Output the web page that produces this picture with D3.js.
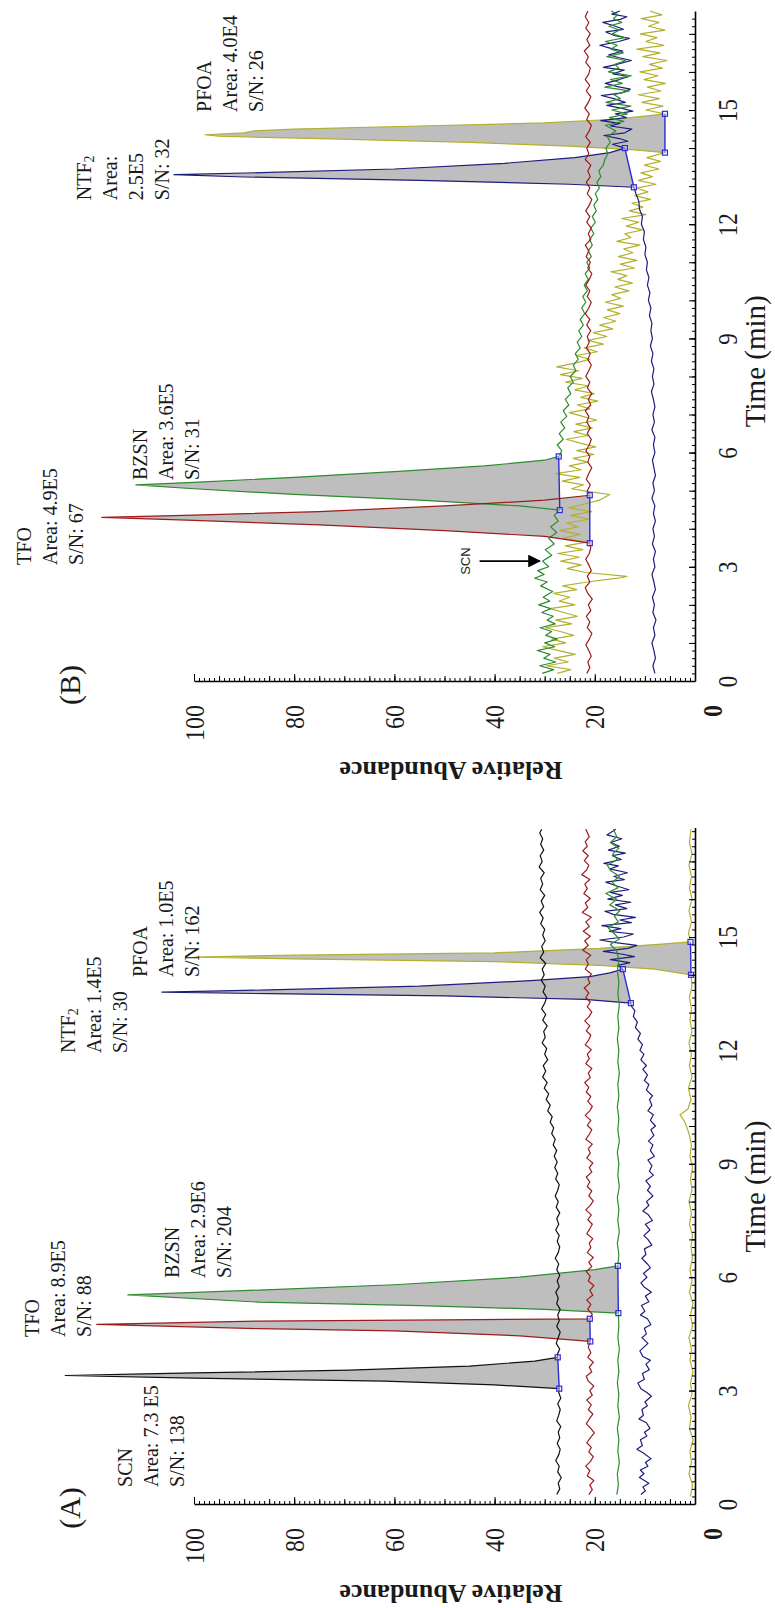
<!DOCTYPE html>
<html>
<head>
<meta charset="utf-8">
<title>Chromatograms A and B</title>
<script src="https://d3js.org/d3.v7.min.js"></script>
<style>
  body { margin: 0; background: #fff; }
  text { font-family: "Liberation Serif", "Times New Roman", serif; fill: #1a1a1a; }
</style>
</head>
<body>
<script>
// axis ticks
const timeTicks = [0, 3, 6, 9, 12, 15];
const abundanceTicks = [0, 20, 40, 60, 80, 100];

// ---- panel A traces: [time (min), relative abundance] ----
const blackA = [[0.25,27.6],[0.4,27.0],[0.55,27.3],[0.7,26.7],[0.85,27.4],[1.0,27.1],[1.15,27.8],[1.3,27.2],[1.45,26.9],[1.6,27.5],[1.75,27.0],[1.9,27.3],[2.05,26.8],[2.2,27.6],[2.35,27.2],[2.5,26.9],[2.65,27.4],[2.8,26.8],[2.95,27.2],
  [3.05,27.1],[3.15,40],[3.25,62],[3.33,100],[3.4,125.7],[3.44,110],[3.47,100],[3.54,69],[3.65,45],[3.78,32],[3.88,27.4],
  [3.95,27.5],[4.1,27.0],[4.25,27.7],[4.4,27.3],[4.55,26.9],[4.7,27.6],[4.85,27.1],[5.0,27.4],[5.15,26.9],[5.3,27.6],[5.45,27.3],[5.6,27.8],[5.75,27.1],[5.9,27.5],[6.05,27.0],[6.2,27.6],[6.35,27.2],[6.5,27.9],[6.65,27.3],[6.8,27.0],[6.95,27.5],[7.1,27.1],[7.25,27.8],[7.4,27.2],[7.55,27.6],[7.7,27.0],[7.85,27.7],[8.0,27.3],[8.15,27.9],[8.3,27.4],[8.45,27.1],[8.6,27.8],[8.75,27.4],[8.9,28.0],[9.05,27.5],[9.2,28.1],[9.35,27.6],[9.5,28.3],[9.65,27.9],[9.8,28.6],[9.95,28.2],[10.1,28.9],[10.25,28.5],[10.4,29.4],[10.55,28.9],[10.7,29.7],[10.85,29.2],[11.0,30.1],[11.15,29.5],[11.3,30.4],[11.45,29.8],[11.6,30.3],[11.75,29.4],[11.9,30.0],[12.05,29.6],[12.2,30.5],[12.35,29.9],[12.5,30.2],[12.65,29.5],[12.8,30.4],[12.95,29.8],[13.1,30.6],[13.25,30.0],[13.4,29.6],[13.55,30.3],[13.7,29.9],[13.85,30.7],[14.0,30.1],[14.15,30.5],[14.3,29.8],[14.45,30.9],[14.6,30.2],[14.75,30.6],[14.9,29.9],[15.05,30.4],[15.2,30.0],[15.35,30.8],[15.5,30.3],[15.65,31.0],[15.8,30.2],[15.95,30.7],[16.1,30.0],[16.25,30.9],[16.4,30.4],[16.55,30.8],[16.7,30.1],[16.85,31.1],[17.0,30.5],[17.15,30.9],[17.3,30.2],[17.45,30.8],[17.6,30.4],[17.75,31.0],[17.85,30.6]];

const redA = [[0.25,21.2],[0.38,20.5],[0.5,21.0],[0.62,20.2],[0.75,21.5],[0.88,21.0],[1.0,21.8],[1.12,20.9],[1.25,20.3],[1.38,21.2],[1.5,20.7],[1.62,21.6],[1.75,20.9],[1.88,20.1],[2.0,20.8],[2.12,21.7],[2.25,21.1],[2.38,20.4],[2.5,21.3],[2.62,20.7],[2.75,21.6],[2.88,20.5],[3.0,21.0],[3.12,20.2],[3.25,21.3],[3.38,21.7],[3.5,20.6],[3.62,21.1],[3.75,20.3],[3.88,21.4],[4.0,20.8],[4.15,21.3],
  [4.3,20.9],[4.45,35],[4.58,60],[4.64,87],[4.75,119.4],[4.84,87],[4.87,50],[4.9,21.0],
  [5.02,20.5],[5.15,21.4],[5.28,20.8],[5.4,21.6],[5.52,20.4],[5.65,21.0],[5.78,20.2],[5.9,21.3],[6.02,20.9],[6.15,21.7],[6.28,20.6],[6.4,21.2],[6.52,20.3],[6.65,21.5],[6.78,20.8],[6.9,21.1],[7.02,20.4],[7.15,21.6],[7.28,21.0],[7.4,20.5],[7.52,21.4],[7.65,20.7],[7.78,21.8],[7.9,20.9],[8.02,20.3],[8.15,21.2],[8.28,20.6],[8.4,21.5],[8.52,21.0],[8.65,21.7],[8.78,20.6],[8.9,21.1],[9.02,20.4],[9.15,21.6],[9.28,20.9],[9.4,21.3],[9.52,20.5],[9.65,21.8],[9.78,21.1],[9.9,20.6],[10.02,21.5],[10.15,20.8],[10.28,21.9],[10.4,21.0],[10.52,20.5],[10.65,21.4],[10.78,20.8],[10.9,21.7],[11.02,21.2],[11.15,22.0],[11.28,20.9],[11.4,21.3],[11.52,20.6],[11.65,21.8],[11.78,21.1],[11.9,21.5],[12.02,20.7],[12.15,21.9],[12.28,21.2],[12.4,20.8],[12.52,21.7],[12.65,21.0],[12.78,22.0],[12.9,21.1],[13.02,20.6],[13.15,21.5],[13.28,20.9],[13.4,21.8],[13.52,21.2],[13.65,22.1],[13.78,21.0],[13.9,21.4],[14.02,20.7],[14.15,21.9],[14.28,21.3],[14.4,21.7],[14.52,20.8],[14.65,22.4],[14.78,21.3],[14.9,22.0],[15.02,20.9],[15.15,22.3],[15.28,21.1],[15.4,21.8],[15.52,20.7],[15.65,22.5],[15.78,21.4],[15.9,21.9],[16.02,20.9],[16.15,22.2],[16.28,21.5],[16.4,22.0],[16.52,21.0],[16.65,22.6],[16.78,21.6],[16.9,21.2],[17.02,22.1],[17.15,21.3],[17.28,22.4],[17.4,21.5],[17.52,21.9],[17.65,21.1],[17.85,21.8]];

const greenA = [[0.25,15.6],[0.5,15.3],[0.8,15.5],[1.1,15.1],[1.4,15.4],[1.7,15.2],[2.0,15.5],[2.3,15.1],[2.6,15.4],[2.9,15.2],[3.2,15.5],[3.5,15.2],[3.8,15.4],[4.1,15.1],[4.4,15.4],[4.7,15.2],
  [5.05,15.3],[5.15,30],[5.25,55],[5.34,87],[5.53,113.2],[5.66,87],[5.8,60],[6.0,35],[6.2,20],[6.3,15.4],
  [6.6,15.2],[6.9,15.5],[7.2,15.1],[7.5,15.4],[7.8,15.2],[8.1,15.5],[8.4,15.1],[8.7,15.4],[9.0,15.2],[9.3,15.5],[9.6,15.1],[9.9,15.4],[10.2,15.2],[10.5,15.5],[10.8,15.2],[11.1,15.4],[11.4,15.1],[11.7,15.4],[12.0,15.2],[12.3,15.5],[12.6,15.2],[12.9,15.4],[13.2,15.1],[13.5,15.4],[13.8,15.2],[14.1,15.5],[14.4,15.2],[14.65,15.7],[14.8,16.9],[14.95,15.1],[15.1,16.2],[15.25,17.4],[15.4,15.3],[15.55,16.1],[15.7,15.0],[15.85,17.0],[16.0,15.6],[16.15,17.8],[16.3,15.4],[16.45,16.5],[16.6,15.1],[16.75,16.8],[16.9,17.5],[17.05,15.5],[17.2,16.4],[17.35,15.2],[17.5,16.9],[17.65,15.6],[17.85,16.3]];

const navyA = [[0.25,10.8],[0.35,9.9],[0.45,10.4],[0.55,9.2],[0.7,11.1],[0.8,10.2],[0.9,10.9],[1.0,9.4],[1.1,9.9],[1.2,8.8],[1.35,10.3],[1.45,11.6],[1.55,10.5],[1.7,10.9],[1.8,9.6],[1.9,10.1],[2.0,9.0],[2.15,9.7],[2.25,11.2],[2.35,10.3],[2.5,10.6],[2.6,9.5],[2.7,10.0],[2.85,8.7],[2.95,9.6],[3.05,10.8],[3.2,11.4],[3.3,10.1],[3.45,10.5],[3.55,9.1],[3.7,9.8],[3.8,8.9],[3.9,10.4],[4.05,11.0],[4.15,10.2],[4.25,9.4],[4.4,10.6],[4.5,9.7],[4.65,10.1],[4.75,8.8],[4.9,9.5],[5.0,10.9],[5.1,10.0],[5.25,10.7],[5.35,9.2],[5.5,9.9],[5.6,8.7],[5.75,10.2],[5.85,10.8],[6.0,9.6],[6.1,10.3],[6.25,8.9],[6.35,9.5],[6.5,10.6],[6.6,9.8],[6.75,10.1],[6.85,8.6],[7.0,9.4],[7.1,10.2],[7.25,9.0],[7.4,9.9],[7.5,8.5],[7.65,9.3],[7.75,10.4],[7.9,9.2],[8.0,9.7],[8.15,8.4],[8.3,9.5],[8.4,8.9],[8.55,9.8],[8.7,8.3],[8.8,9.1],[8.95,8.6],[9.1,9.4],[9.2,8.1],[9.35,8.9],[9.5,8.4],[9.6,9.3],[9.75,8.2],[9.9,8.8],[10.0,7.9],[10.15,8.9],[10.3,8.3],[10.4,9.4],[10.55,8.6],[10.7,9.1],[10.8,8.5],[10.95,9.7],[11.1,9.2],[11.2,10.1],[11.35,9.5],[11.5,10.4],[11.6,9.7],[11.75,10.8],[11.9,10.2],[12.0,11.0],[12.15,10.5],[12.3,11.4],[12.45,10.9],[12.6,11.9],[12.75,11.5],[12.9,12.3],[13.05,12.0],[13.15,12.6],
  [13.25,12.8],[13.35,22],[13.44,50],[13.5,85],[13.54,106.4],[13.6,85],[13.7,55],[13.85,32],[13.95,21],[14.05,17],[14.15,14.4],
  [14.25,15.4],[14.32,13.0],[14.4,16.9],[14.48,12.1],[14.55,14.7],[14.62,18.3],[14.7,13.4],[14.78,11.6],[14.85,15.8],[14.92,19.0],[15.0,14.2],[15.08,12.3],[15.15,17.1],[15.22,14.8],[15.3,18.6],[15.38,12.7],[15.45,15.0],[15.52,11.9],[15.6,16.3],[15.68,18.0],[15.75,13.6],[15.85,15.9],[15.92,12.8],[16.0,17.4],[16.1,14.5],[16.18,16.9],[16.25,13.2],[16.35,15.6],[16.45,17.8],[16.52,14.1],[16.6,16.2],[16.7,13.5],[16.8,17.0],[16.88,15.3],[16.95,18.2],[17.05,14.7],[17.15,16.5],[17.22,13.9],[17.3,17.3],[17.4,15.1],[17.5,16.8],[17.6,14.6],[17.7,17.6],[17.85,15.8]];

const yellowA = [[0.2,0.9],[0.5,0.5],[0.8,1.2],[1.1,0.7],[1.4,1.0],[1.7,0.4],[2.0,1.1],[2.3,0.8],[2.6,1.3],[2.9,0.6],[3.2,0.9],[3.5,0.4],[3.8,1.0],[4.1,0.7],[4.4,1.2],[4.7,0.5],[5.0,0.9],[5.3,0.4],[5.6,1.1],[5.9,0.6],[6.2,1.0],[6.5,0.5],[6.8,0.8],[7.1,0.5],[7.4,1.1],[7.7,0.7],[8.0,1.2],[8.3,0.6],[8.6,0.9],[8.9,0.5],[9.2,1.0],[9.5,0.7],[9.8,1.2],[10.1,2.0],[10.3,3.0],[10.45,1.4],[10.7,0.8],[11.0,1.3],[11.3,0.6],[11.6,1.1],[11.9,0.7],[12.2,1.2],[12.5,0.6],[12.8,1.0],[13.1,0.7],[13.4,1.1],[13.7,0.6],
  [14.0,0.8],[14.15,8],[14.25,19],[14.35,40],[14.42,80],[14.47,99.8],[14.52,80],[14.58,40],[14.7,19],[14.8,8],[14.87,0.9],
  [15.1,1.3],[15.4,0.7],[15.7,1.2],[16.0,0.6],[16.3,1.1],[16.6,0.7],[16.9,1.2],[17.2,0.6],[17.5,1.1],[17.85,0.8]];

// ---- panel B traces ----
const redB = [[0.2,21.6],[0.35,21.0],[0.5,21.4],[0.65,20.7],[0.8,21.2],[0.95,21.8],[1.1,21.1],[1.25,20.6],[1.4,21.5],[1.55,21.0],[1.7,21.7],[1.85,20.8],[2.0,21.3],[2.15,20.5],[2.3,21.4],[2.45,21.9],[2.6,21.0],[2.75,21.5],[2.9,20.7],[3.05,21.2],[3.2,21.8],[3.35,21.1],[3.5,20.8],
  [3.62,21.0],[3.8,30],[3.95,50],[4.1,75],[4.22,100],[4.3,118.4],[4.36,100],[4.45,75],[4.6,50],[4.75,30],[4.88,21.0],
  [5.0,21.5],[5.15,20.9],[5.3,21.7],[5.45,21.2],[5.6,20.6],[5.75,21.4],[5.9,21.0],[6.05,21.8],[6.2,21.1],[6.35,20.7],[6.5,21.5],[6.65,20.9],[6.8,21.6],[6.95,21.2],[7.1,21.9],[7.25,20.8],[7.4,21.3],[7.55,20.6],[7.7,21.5],[7.85,21.0],[8.0,21.8],[8.15,21.2],[8.3,20.7],[8.45,21.4],[8.6,20.9],[8.75,21.7],[8.9,21.1],[9.05,21.5],[9.2,20.8],[9.35,21.6],[9.5,21.0],[9.65,21.9],[9.8,21.2],[9.95,20.7],[10.1,21.5],[10.25,21.0],[10.4,21.8],[10.55,21.1],[10.7,20.6],[10.85,21.4],[11.0,20.9],[11.15,21.7],[11.3,21.2],[11.45,21.9],[11.6,20.8],[11.75,21.3],[11.9,20.7],[12.05,21.6],[12.2,21.0],[12.35,21.8],[12.5,21.1],[12.65,20.6],[12.8,21.5],[12.95,21.0],[13.1,21.7],[13.25,20.9],[13.4,21.4],[13.55,20.8],[13.7,21.9],[13.85,21.2],[14.0,21.6],[14.15,20.9],[14.3,21.8],[14.45,21.1],[14.6,20.7],[14.75,21.6],[14.9,21.1],[15.05,22.0],[15.2,21.3],[15.35,20.8],[15.5,21.7],[15.65,21.0],[15.8,21.9],[15.95,21.2],[16.1,20.9],[16.25,21.8],[16.4,21.3],[16.55,22.1],[16.7,21.0],[16.85,21.6],[17.0,20.9],[17.15,21.8],[17.3,21.2],[17.45,21.9],[17.6,21.4]];

const greenB = [[0.2,30.5],[0.3,28.2],[0.4,31.0],[0.5,27.8],[0.6,30.2],[0.7,28.9],[0.8,31.5],[0.9,28.0],[1.0,30.0],[1.1,27.5],[1.2,29.8],[1.3,28.6],[1.4,30.9],[1.5,27.9],[1.6,29.5],[1.7,28.3],[1.8,30.6],[1.9,28.8],[2.0,31.2],[2.1,29.0],[2.2,30.3],[2.35,28.4],[2.5,30.8],[2.6,29.5],[2.7,32.0],[2.8,30.1],[2.9,31.4],[3.0,29.2],[3.15,30.4],[3.3,28.6],[3.45,29.9],[3.6,28.1],[3.75,29.2],[3.9,27.6],[4.05,28.8],[4.2,27.3],[4.35,28.1],
  [4.49,27.0],[4.6,35],[4.75,55],[4.9,80],[5.05,100],[5.15,111.6],[5.22,100],[5.35,80],[5.5,60],[5.65,42],[5.8,30],[5.9,27.2],
  [6.05,26.6],[6.2,27.5],[6.35,26.3],[6.5,27.1],[6.65,26.0],[6.8,26.8],[6.95,25.6],[7.1,26.3],[7.25,25.2],[7.4,25.9],[7.55,24.8],[7.7,25.4],[7.85,24.3],[8.0,24.9],[8.15,23.8],[8.3,24.3],[8.45,23.3],[8.6,23.9],[8.75,22.9],[8.9,23.5],[9.05,22.6],[9.2,23.2],[9.35,22.3],[9.5,22.9],[9.65,22.0],[9.8,22.6],[9.95,21.8],[10.1,22.4],[10.25,21.5],[10.4,22.1],[10.55,21.3],[10.7,21.9],[10.85,21.0],[11.0,21.6],[11.15,20.7],[11.3,21.3],[11.45,20.5],[11.6,21.0],[11.75,20.2],[11.9,20.8],[12.05,19.9],[12.2,20.5],[12.35,19.7],[12.5,20.2],[12.65,19.4],[12.8,19.9],[12.95,19.1],[13.1,19.6],[13.25,18.8],[13.4,19.2],[13.55,18.3],[13.7,18.0],[13.85,17.4],[14.0,17.8],[14.15,16.9],[14.3,17.5],[14.45,15.8],[14.6,17.9],[14.7,14.2],[14.8,17.1],[14.9,13.5],[15.0,16.6],[15.1,12.8],[15.2,17.8],[15.3,14.9],[15.4,16.2],[15.5,13.1],[15.6,18.0],[15.7,14.5],[15.8,16.9],[15.9,12.7],[16.0,17.3],[16.1,15.2],[16.2,16.0],[16.3,13.8],[16.4,17.6],[16.5,14.3],[16.6,16.8],[16.7,15.5],[16.8,17.9],[16.9,14.0],[17.0,16.5],[17.1,15.1],[17.2,17.2],[17.3,14.6],[17.4,16.3],[17.5,15.4],[17.6,16.7]];

const navyB = [[0.2,8.0],[0.4,8.4],[0.6,7.9],[0.8,8.2],[1.0,8.6],[1.2,8.0],[1.4,8.3],[1.6,7.8],[1.8,8.4],[2.0,8.1],[2.2,8.5],[2.4,7.9],[2.6,8.2],[2.8,8.6],[3.0,8.0],[3.2,8.3],[3.4,7.9],[3.6,8.5],[3.8,8.1],[4.0,8.4],[4.2,7.9],[4.4,8.3],[4.6,8.0],[4.8,8.6],[5.0,8.1],[5.2,8.4],[5.4,7.9],[5.6,8.2],[5.8,8.5],[6.0,8.0],[6.2,8.3],[6.4,8.0],[6.6,8.6],[6.8,8.1],[7.0,8.4],[7.2,8.0],[7.4,8.3],[7.6,8.7],[7.8,8.2],[8.0,8.5],[8.2,8.2],[8.4,8.7],[8.6,8.4],[8.8,8.9],[9.0,8.5],[9.2,8.8],[9.4,8.6],[9.6,9.1],[9.8,8.8],[10.0,9.3],[10.2,9.0],[10.4,9.5],[10.6,9.2],[10.8,9.7],[11.0,9.5],[11.2,10.0],[11.4,9.8],[11.6,10.3],[11.8,10.1],[12.0,10.7],[12.2,10.5],[12.4,11.1],[12.6,11.2],[12.8,11.8],
  [12.97,12.2],[13.05,25],[13.15,55],[13.24,90],[13.3,104],[13.36,85],[13.45,60],[13.6,38],[13.75,24],[13.88,17],[14.0,14],
  [14.1,16.5],[14.18,13.4],[14.25,15.1],[14.33,18.2],[14.4,14.0],[14.5,12.6],[14.58,16.9],[14.65,15.0],[14.72,18.8],[14.8,13.7],[14.9,15.9],[14.97,12.4],[15.05,14.8],[15.12,17.6],[15.2,13.9],[15.3,16.2],[15.38,18.7],[15.45,14.6],[15.55,12.9],[15.62,15.7],[15.7,17.9],[15.8,15.1],[15.88,13.2],[15.95,16.4],[16.05,14.1],[16.12,18.3],[16.2,15.6],[16.3,12.7],[16.38,15.3],[16.45,17.2],[16.55,14.4],[16.62,16.8],[16.7,19.0],[16.8,15.2],[16.88,13.1],[16.95,16.0],[17.05,17.8],[17.12,14.3],[17.2,15.9],[17.3,18.4],[17.38,14.9],[17.45,13.6],[17.52,16.6],[17.6,15.0]];

const yellowB = [[0.2,27.5],[0.3,24.8],[0.4,29.6],[0.5,25.3],[0.6,28.1],[0.7,23.9],[0.8,27.2],[0.9,30.4],[1.0,25.8],[1.1,28.6],[1.2,24.2],[1.3,26.9],[1.4,29.8],[1.5,24.6],[1.6,27.8],[1.7,23.5],[1.8,26.2],[1.9,28.9],[2.0,24.0],[2.1,27.1],[2.2,25.0],[2.3,28.2],[2.4,23.6],[2.5,26.4],[2.6,21.5],[2.7,15.5],[2.75,13.6],[2.85,21.8],[2.95,25.5],[3.05,22.7],[3.15,26.8],[3.25,23.1],[3.35,27.4],[3.45,22.4],[3.55,25.9],[3.65,21.6],[3.75,26.3],[3.85,22.9],[3.95,27.0],[4.05,23.4],[4.15,25.6],[4.25,21.2],[4.35,24.8],[4.45,20.6],[4.55,25.2],[4.65,22.0],[4.75,19.1],[4.9,17.0],[4.98,21.5],[5.05,24.6],[5.15,22.3],[5.25,26.5],[5.35,23.0],[5.45,27.8],[5.55,22.7],[5.65,25.1],[5.75,21.4],[5.85,24.3],[5.95,20.2],[6.05,23.6],[6.15,19.8],[6.25,22.9],[6.35,25.7],[6.45,21.3],[6.55,24.2],[6.65,20.5],[6.75,23.8],[6.85,19.6],[6.95,22.4],[7.05,25.1],[7.15,21.0],[7.25,23.5],[7.35,19.4],[7.45,22.8],[7.55,20.1],[7.65,24.0],[7.75,21.2],[7.85,25.8],[7.95,22.5],[8.05,26.9],[8.15,23.2],[8.25,27.6],[8.35,24.0],[8.45,21.0],[8.55,23.7],[8.65,19.5],[8.75,22.1],[8.85,18.3],[8.95,21.4],[9.05,17.6],[9.15,20.3],[9.25,16.4],[9.35,19.0],[9.45,15.8],[9.55,18.2],[9.65,15.0],[9.75,17.5],[9.85,14.3],[9.95,17.9],[10.05,14.8],[10.15,16.6],[10.25,13.2],[10.35,16.0],[10.45,12.5],[10.55,15.4],[10.65,13.6],[10.75,16.8],[10.85,12.1],[10.95,14.9],[11.05,11.6],[11.15,15.3],[11.25,12.4],[11.35,14.2],[11.45,11.0],[11.55,15.6],[11.65,12.8],[11.75,14.0],[11.85,10.5],[11.95,13.7],[12.05,11.2],[12.15,14.6],[12.25,9.8],[12.35,13.1],[12.45,10.4],[12.55,12.6],[12.65,8.9],[12.75,12.0],[12.85,9.4],[12.95,11.7],[13.05,7.8],[13.15,11.3],[13.25,8.5],[13.35,10.8],[13.45,7.2],[13.55,10.1],[13.65,6.9],[13.75,9.6],
  [13.88,6.0],[13.95,12],[14.05,25],[14.15,45],[14.25,75],[14.31,95],[14.35,97.8],[14.4,90],[14.45,88],[14.5,80],[14.58,55],[14.66,30],[14.75,17],[14.85,9],[14.9,6.0],
  [15.0,9.8],[15.1,6.4],[15.2,10.6],[15.3,7.1],[15.4,11.3],[15.5,6.8],[15.6,9.5],[15.7,5.9],[15.8,10.2],[15.9,7.4],[16.0,11.0],[16.1,6.5],[16.2,9.1],[16.3,5.6],[16.4,10.4],[16.5,7.0],[16.6,11.6],[16.7,6.2],[16.8,9.8],[16.9,7.6],[17.0,10.9],[17.1,6.0],[17.2,9.3],[17.3,7.2],[17.4,10.7],[17.5,6.6],[17.6,9.0]];

// integrated peak windows [trace, start min, end min]
const peaksA = [["black",3.05,3.88],["red",4.3,4.9],["green",5.05,6.3],["navy",13.25,14.15],["yellow",14.0,14.87]];
const peaksB = [["red",3.62,4.88],["green",4.49,5.9],["navy",12.97,14.0],["yellow",13.88,14.9]];

// peak annotations: text lines, anchored at [time, abundance]
const notesA = [
  { lines: ["SCN", "Area: 7.3 E5", "S/N: 138"], at: [0.45, 113.8] },
  { lines: ["TFO", "Area: 8.9E5", "S/N: 88"], at: [4.42, 132.3] },
  { lines: ["BZSN", "Area: 2.9E6", "S/N: 204"], at: [5.98, 104.4] },
  { lines: ["NTF2", "Area: 1.4E5", "S/N: 30"], at: [11.93, 125.1] },
  { lines: ["PFOA", "Area: 1.0E5", "S/N: 162"], at: [13.94, 110.8] }
];
const notesB = [
  { lines: ["TFO", "Area: 4.9E5", "S/N: 67"], at: [3.05, 133.9] },
  { lines: ["BZSN", "Area: 3.6E5", "S/N: 31"], at: [5.28, 110.8] },
  { lines: ["NTF2", "Area:", "2.5E5", "S/N: 32"], at: [12.63, 122.0] },
  { lines: ["PFOA", "Area: 4.0E4", "S/N: 26"], at: [14.95, 98.0] }
];

const colors = { black: "#111111", red: "#9e1b1b", green: "#2f8a2f", navy: "#1d1d7c", yellow: "#b3b02c" };

const panels = [
  { name: "(A)", y0: 1504, y15: 937, tEnd: 17.9,
    traces: { yellow: yellowA, navy: navyA, green: greenA, red: redA, black: blackA },
    peaks: peaksA, notes: notesA, arrow: null },
  { name: "(B)", y0: 681, y15: 110, tEnd: 17.6,
    traces: { yellow: yellowB, navy: navyB, green: greenB, red: redB },
    peaks: peaksB, notes: notesB, arrow: { label: "SCN", t: 3.15, from: 43, to: 31 } }
];

const W = 775, H = 1608;
const svg = d3.select("body").append("svg").attr("width", W).attr("height", H);
svg.append("rect").attr("width", W).attr("height", H).attr("fill", "#fff");

svg.append("defs").append("marker")
  .attr("id", "arrowhead").attr("viewBox", "0 0 10 10").attr("refX", 9).attr("refY", 5)
  .attr("markerWidth", 9).attr("markerHeight", 8).attr("orient", "auto")
  .append("path").attr("d", "M0,0L10,5L0,10Z").attr("fill", "#000");

// text reading bottom-to-top
function vtext(g, x, y, str, size, anchor) {
  const t = g.append("text")
    .attr("transform", `translate(${x},${y}) rotate(-90)`)
    .attr("text-anchor", anchor || "start")
    .attr("dominant-baseline", "central")
    .style("font-size", size + "px");
  if (str === "NTF2") {
    t.append("tspan").text("NTF");
    t.append("tspan").text("2").style("font-size", (size * 0.7) + "px").attr("dy", size * 0.25);
  } else {
    t.text(str);
  }
  return t;
}

function drawPanel(p) {
  const t = d3.scaleLinear().domain([0, 15]).range([p.y0, p.y15]);
  const v = d3.scaleLinear().domain([0, 100]).range([695, 194]);
  const g = svg.append("g");
  const line = d3.line().x(d => v(d[1])).y(d => t(d[0]));

  // grey integrated areas
  p.peaks.forEach(([name, a, b]) => {
    const pts = p.traces[name].filter(d => d[0] >= a - 1e-9 && d[0] <= b + 1e-9);
    g.append("path").attr("d", line(pts) + "Z").attr("fill", "#bebebe").attr("stroke", "none");
  });

  // chromatogram traces
  Object.entries(p.traces).forEach(([name, data]) => {
    g.append("path").datum(data).attr("d", line)
      .attr("fill", "none").attr("stroke", colors[name])
      .attr("stroke-width", 1.2).attr("stroke-linejoin", "round");
  });

  // peak baselines with end markers
  p.peaks.forEach(([name, a, b]) => {
    const data = p.traces[name];
    const s = data.find(d => Math.abs(d[0] - a) < 1e-9);
    const e = data.find(d => Math.abs(d[0] - b) < 1e-9);
    g.append("line")
      .attr("x1", v(s[1])).attr("y1", t(s[0])).attr("x2", v(e[1])).attr("y2", t(e[0]))
      .attr("stroke", "#2b2bd4").attr("stroke-width", 1.4);
    g.selectAll(null).data([s, e]).join("rect")
      .attr("x", d => v(d[1]) - 2.5).attr("y", d => t(d[0]) - 2.5)
      .attr("width", 5).attr("height", 5)
      .attr("fill", "#fff").attr("fill-opacity", 0.4)
      .attr("stroke", "#2b2bd4").attr("stroke-width", 1.2);
  });

  // time axis (vertical, at abundance 0)
  const tAx = d3.scaleLinear().domain([0, p.tEnd]).range([p.y0, t(p.tEnd)]);
  const tg = g.append("g").attr("transform", `translate(${v(0)},0)`);
  tg.append("g").call(d3.axisRight(tAx).tickValues(d3.range(0, p.tEnd, 0.2)).tickSize(-3).tickSizeOuter(0).tickFormat(""))
    .call(s => s.select(".domain").remove());
  tg.append("g").call(d3.axisRight(tAx).tickValues(d3.range(0, p.tEnd, 1)).tickSize(-6).tickSizeOuter(0).tickFormat(""))
    .call(s => s.select(".domain").remove());
  tg.append("g").call(d3.axisRight(tAx).tickValues(timeTicks).tickSize(-6).tickSizeOuter(0).tickFormat(d3.format("d")))
    .call(s => s.select(".domain").attr("stroke-width", 1.6))
    .call(s => s.selectAll("text")
      .attr("x", null).attr("dy", null)
      .attr("transform", "translate(33,0) rotate(-90) scale(1,1.15)")
      .attr("text-anchor", "middle").attr("dominant-baseline", "central")
      .style("font-size", "23px"));

  // abundance axis (horizontal, at time 0)
  const ag = g.append("g").attr("transform", `translate(0,${p.y0})`);
  ag.append("g").call(d3.axisBottom(v).tickValues(d3.range(0, 101, 1)).tickSize(-3).tickSizeOuter(0).tickFormat(""))
    .call(s => s.select(".domain").remove());
  ag.append("g").call(d3.axisBottom(v).tickValues(d3.range(0, 101, 5)).tickSize(-5).tickSizeOuter(0).tickFormat(""))
    .call(s => s.select(".domain").remove());
  ag.append("g").call(d3.axisBottom(v).tickValues(abundanceTicks).tickSize(-7).tickSizeOuter(0).tickFormat(d3.format("d")))
    .call(s => s.select(".domain").attr("stroke-width", 1.6))
    .call(s => s.selectAll("text")
      .attr("y", null).attr("dy", null)
      .attr("transform", d => (d === 0 ? "translate(17,24)" : "translate(0,24)") + " rotate(-90) scale(1,1.15)")
      .attr("text-anchor", "end").attr("dominant-baseline", "central")
      .style("font-weight", d => d === 0 ? "bold" : null)
      .style("font-size", "24px"));

  // axis titles
  vtext(g, 755, t(8.4), "Time (min)", 29, "middle");
  g.append("text")
    .attr("transform", `translate(451,${p.y0 + 89}) rotate(180)`)
    .attr("text-anchor", "middle").attr("dominant-baseline", "central")
    .style("font-size", "26px").style("font-weight", "bold")
    .text("Relative Abundance");

  // panel letter
  vtext(g, 69, p.y0 + 4, p.name, 30, "middle");

  // peak annotations
  p.notes.forEach(n => {
    n.lines.forEach((s, i) => vtext(g, v(n.at[1]) + i * 26, t(n.at[0]), s, 20, "start"));
  });

  // arrow marking an unresolved peak
  if (p.arrow) {
    const a = p.arrow;
    g.append("line")
      .attr("x1", v(a.from)).attr("y1", t(a.t)).attr("x2", v(a.to)).attr("y2", t(a.t))
      .attr("stroke", "#000").attr("stroke-width", 1.6).attr("marker-end", "url(#arrowhead)");
    vtext(g, v(a.from) - 14, t(a.t), a.label, 13, "middle").style("font-family", "Arial, 'Liberation Sans', sans-serif");
  }
}

panels.forEach(drawPanel);
</script>
</body>
</html>
